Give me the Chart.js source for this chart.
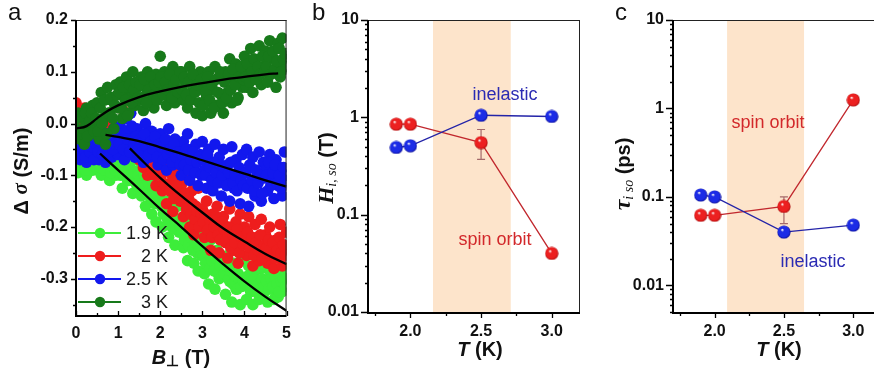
<!DOCTYPE html>
<html><head><meta charset="utf-8">
<script src="https://cdn.jsdelivr.net/npm/chart.js@4.4.1/dist/chart.umd.min.js"></script>
<style>
html,body{margin:0;padding:0;background:#fff;width:874px;height:378px;overflow:hidden}
.w{position:absolute;top:0}
</style></head><body>
<div class="w" style="left:0"><canvas id="ca" width="300" height="378"></canvas></div>
<div class="w" style="left:290px"><canvas id="cb" width="300" height="378"></canvas></div>
<div class="w" style="left:580px"><canvas id="cc" width="310" height="378"></canvas></div>
<script>
// ---------- Panel a data ----------
const B = [0,0.05,0.1,0.15,0.2,0.25,0.3,0.35,0.4,0.45,0.5,0.55,0.6,0.65,0.7,0.75,0.8,0.85,0.9,0.95,
1,1.05,1.1,1.15,1.2,1.25,1.3,1.35,1.4,1.45,1.5,1.55,1.6,1.65,1.7,1.75,1.8,1.85,1.9,1.95,
2,2.05,2.1,2.15,2.2,2.25,2.3,2.35,2.4,2.45,2.5,2.55,2.6,2.65,2.7,2.75,2.8,2.85,2.9,2.95,
3,3.05,3.1,3.15,3.2,3.25,3.3,3.35,3.4,3.45,3.5,3.55,3.6,3.65,3.7,3.75,3.8,3.85,3.9,3.95,
4,4.05,4.1,4.15,4.2,4.25,4.3,4.35,4.4,4.45,4.5,4.55,4.6,4.65,4.7,4.75,4.8,4.85,4.9,4.95,5];
const B2 = [0.025,0.075,0.125,0.175,0.225,0.275,0.325,0.375,0.425,0.475,0.525,0.575,0.625,0.675,0.725,0.775,0.825,0.875,0.925,0.975,
1.025,1.075,1.125,1.175,1.225,1.275,1.325,1.375,1.425,1.475,1.525,1.575,1.625,1.675,1.725,1.775,1.825,1.875,1.925,1.975,
2.025,2.075,2.125,2.175,2.225,2.275,2.325,2.375,2.425,2.475,2.525,2.575,2.625,2.675,2.725,2.775,2.825,2.875,2.925,2.975,
3.025,3.075,3.125,3.175,3.225,3.275,3.325,3.375,3.425,3.475,3.525,3.575,3.625,3.675,3.725,3.775,3.825,3.875,3.925,3.975,
4.025,4.075,4.125,4.175,4.225,4.275,4.325,4.375,4.425,4.475,4.525,4.575,4.625,4.675,4.725,4.775,4.825,4.875,4.925,4.975];
const sig3K = [-0.01,0.02,-0.03,0.01,-0.04,0.03,0.0,-0.02,0.035,-0.005,
0.04,-0.03,0.06,0.01,-0.04,0.07,0.02,0.045,-0.01,0.075,
0.03,0.08,0.01,0.06,0.09,0.02,0.05,0.1,0.035,0.07,
0.045,0.09,0.025,0.07,0.1,0.04,0.08,0.03,0.095,0.06,
0.13,0.06,0.1,0.035,0.08,0.05,0.11,0.04,0.09,0.065,
0.1,0.045,0.08,0.03,0.11,0.06,0.09,0.02,0.07,0.1,
0.015,0.08,0.05,0.1,0.02,0.065,0.11,0.035,0.09,0.055,
0.02,0.1,0.06,0.125,0.04,0.085,0.115,0.05,0.095,0.07,
0.13,0.07,0.105,0.145,0.06,0.12,0.09,0.15,0.075,0.11,
0.14,0.08,0.16,0.1,0.125,0.07,0.155,0.09,0.165,0.11,0.13];
const sig3K_b = [0.01,-0.02,0.015,-0.01,0.02,-0.025,0.005,0.02,-0.015,0.01,
-0.015,0.03,0.0,0.045,-0.02,0.02,0.05,0.01,0.035,0.055,
0.06,0.03,0.07,0.045,0.015,0.075,0.04,0.065,0.08,0.05,
0.075,0.05,0.085,0.04,0.065,0.09,0.055,0.075,0.045,0.08,
0.09,0.055,0.08,0.065,0.095,0.05,0.075,0.085,0.06,0.1,
0.065,0.09,0.055,0.08,0.045,0.095,0.06,0.075,0.04,0.085,
0.035,0.06,0.09,0.045,0.075,0.03,0.085,0.06,0.1,0.04,
0.08,0.05,0.095,0.065,0.105,0.075,0.045,0.09,0.11,0.085,
0.09,0.115,0.08,0.1,0.125,0.085,0.11,0.095,0.13,0.1,
0.11,0.13,0.095,0.14,0.105,0.12,0.145,0.1,0.125,0.135];
const sig25K = [-0.05,-0.025,-0.07,-0.04,-0.02,-0.075,-0.035,-0.06,-0.025,-0.055,
-0.03,-0.07,-0.015,-0.05,-0.075,-0.02,-0.045,-0.065,-0.01,-0.04,
-0.06,-0.005,-0.035,-0.07,0.01,-0.045,0.02,-0.025,-0.065,-0.01,
-0.05,-0.02,-0.075,0.0,-0.04,-0.065,-0.015,-0.055,-0.03,-0.08,
-0.02,-0.06,-0.035,-0.09,-0.01,-0.05,-0.08,-0.03,-0.07,-0.045,
-0.1,-0.035,-0.065,-0.02,-0.11,-0.05,-0.085,-0.04,-0.12,-0.06,
-0.035,-0.09,-0.125,-0.05,-0.075,-0.13,-0.04,-0.1,-0.065,-0.14,
-0.05,-0.11,-0.08,-0.15,-0.045,-0.125,-0.07,-0.1,-0.155,-0.06,
-0.12,-0.05,-0.16,-0.085,-0.065,-0.14,-0.1,-0.055,-0.15,-0.075,
-0.09,-0.13,-0.06,-0.11,-0.145,-0.07,-0.12,-0.085,-0.14,-0.055,-0.1];
const sig25K_b = [-0.04,-0.06,-0.03,-0.05,-0.065,-0.035,-0.055,-0.045,-0.07,-0.04,
-0.055,-0.035,-0.06,-0.025,-0.045,-0.055,-0.03,-0.05,-0.04,-0.02,
-0.04,-0.02,-0.05,-0.015,-0.03,-0.055,-0.005,-0.04,-0.025,-0.05,
-0.03,-0.055,-0.02,-0.045,-0.06,-0.035,-0.05,-0.025,-0.065,-0.04,
-0.045,-0.07,-0.03,-0.06,-0.05,-0.075,-0.04,-0.065,-0.055,-0.08,
-0.06,-0.08,-0.05,-0.09,-0.07,-0.055,-0.095,-0.075,-0.065,-0.1,
-0.07,-0.1,-0.06,-0.085,-0.11,-0.075,-0.095,-0.115,-0.08,-0.1,
-0.085,-0.12,-0.095,-0.075,-0.115,-0.1,-0.13,-0.085,-0.11,-0.12,
-0.095,-0.125,-0.08,-0.11,-0.13,-0.09,-0.115,-0.1,-0.135,-0.105,
-0.1,-0.075,-0.12,-0.095,-0.08,-0.115,-0.1,-0.125,-0.085,-0.11];
const sig2K = [0.04,0.0,0.02,-0.015,0.03,0.005,-0.02,0.015,-0.005,0.01,
-0.01,0.005,-0.025,0.0,-0.02,0.01,-0.03,-0.005,-0.025,-0.015,
-0.02,-0.035,0.028,-0.04,-0.025,-0.05,-0.03,-0.045,-0.06,-0.035,
-0.07,-0.04,-0.085,-0.055,-0.1,-0.045,-0.09,-0.065,-0.12,-0.06,
-0.07,-0.13,-0.09,-0.155,-0.075,-0.115,-0.17,-0.095,-0.14,-0.11,
-0.12,-0.18,-0.105,-0.15,-0.2,-0.13,-0.215,-0.16,-0.125,-0.19,
-0.165,-0.22,-0.15,-0.19,-0.245,-0.175,-0.205,-0.16,-0.25,-0.2,
-0.18,-0.23,-0.26,-0.165,-0.21,-0.245,-0.19,-0.27,-0.175,-0.225,
-0.2,-0.255,-0.18,-0.235,-0.275,-0.195,-0.22,-0.265,-0.185,-0.245,
-0.215,-0.27,-0.2,-0.245,-0.28,-0.225,-0.26,-0.195,-0.275,-0.235,-0.21];
const sig2K_b = [0.01,0.025,-0.005,0.015,0.0,0.02,-0.01,0.005,0.01,-0.005,
0.0,-0.015,0.005,-0.01,-0.02,0.0,-0.015,-0.025,-0.01,-0.02,
-0.03,-0.02,-0.04,-0.03,-0.045,-0.035,-0.04,-0.055,-0.045,-0.05,
-0.055,-0.065,-0.05,-0.075,-0.07,-0.08,-0.065,-0.1,-0.085,-0.09,
-0.1,-0.115,-0.12,-0.09,-0.13,-0.1,-0.145,-0.12,-0.135,-0.15,
-0.15,-0.135,-0.165,-0.145,-0.175,-0.155,-0.185,-0.17,-0.2,-0.175,
-0.19,-0.175,-0.205,-0.185,-0.22,-0.2,-0.18,-0.215,-0.225,-0.19,
-0.205,-0.225,-0.2,-0.24,-0.215,-0.23,-0.205,-0.25,-0.22,-0.235,
-0.225,-0.21,-0.24,-0.22,-0.255,-0.23,-0.245,-0.215,-0.26,-0.235,
-0.24,-0.225,-0.255,-0.23,-0.26,-0.245,-0.22,-0.25,-0.235,-0.255];
const sig19K = [-0.07,-0.095,-0.055,-0.085,-0.06,-0.1,-0.075,-0.05,-0.09,-0.065,
-0.08,-0.055,-0.1,-0.065,-0.045,-0.09,-0.11,-0.06,-0.075,-0.1,
-0.06,-0.1,-0.125,-0.075,-0.055,-0.11,-0.09,-0.135,-0.07,-0.12,
-0.09,-0.14,-0.1,-0.16,-0.12,-0.085,-0.175,-0.13,-0.19,-0.11,
-0.145,-0.2,-0.125,-0.175,-0.22,-0.15,-0.19,-0.235,-0.16,-0.21,
-0.19,-0.24,-0.2,-0.265,-0.215,-0.185,-0.27,-0.23,-0.285,-0.21,
-0.235,-0.29,-0.25,-0.31,-0.225,-0.275,-0.32,-0.245,-0.3,-0.26,
-0.28,-0.33,-0.255,-0.305,-0.345,-0.27,-0.32,-0.29,-0.35,-0.265,
-0.3,-0.34,-0.275,-0.325,-0.35,-0.285,-0.315,-0.34,-0.28,-0.33,
-0.31,-0.345,-0.285,-0.32,-0.34,-0.29,-0.335,-0.3,-0.325,-0.28,-0.3];
const sig19K_b = [-0.08,-0.065,-0.085,-0.07,-0.09,-0.075,-0.065,-0.08,-0.07,-0.085,
-0.07,-0.085,-0.075,-0.09,-0.065,-0.08,-0.095,-0.07,-0.09,-0.085,
-0.085,-0.075,-0.1,-0.09,-0.11,-0.08,-0.105,-0.095,-0.115,-0.1,
-0.11,-0.125,-0.1,-0.135,-0.115,-0.145,-0.125,-0.155,-0.14,-0.15,
-0.16,-0.175,-0.15,-0.185,-0.165,-0.2,-0.18,-0.205,-0.19,-0.2,
-0.21,-0.225,-0.205,-0.235,-0.22,-0.245,-0.23,-0.25,-0.24,-0.255,
-0.255,-0.27,-0.25,-0.28,-0.265,-0.285,-0.26,-0.29,-0.275,-0.295,
-0.29,-0.275,-0.3,-0.285,-0.31,-0.295,-0.32,-0.3,-0.315,-0.305,
-0.31,-0.295,-0.32,-0.305,-0.3,-0.325,-0.31,-0.32,-0.3,-0.315,
-0.305,-0.32,-0.3,-0.315,-0.295,-0.31,-0.325,-0.305,-0.3,-0.315];
// fitted curves
const fit3K_B = [0,0.25,0.5,0.75,1,1.5,2,2.5,3,3.5,4,4.5,4.8];
const fit3K_y = [-0.01,-0.005,0.01,0.024,0.035,0.051,0.062,0.071,0.078,0.085,0.09,0.095,0.097];
const fit25K_B = [0.7,1,1.5,2,2.5,3,3.5,4,4.5,5];
const fit25K_y = [-0.022,-0.026,-0.034,-0.046,-0.058,-0.071,-0.084,-0.097,-0.11,-0.122];
const fit2K_B = [1.28,1.5,2,2.5,3,3.5,4,4.5,5];
const fit2K_y = [-0.048,-0.066,-0.105,-0.14,-0.172,-0.203,-0.228,-0.252,-0.272];
const fit19K_B = [0.57,1,1.5,2,2.5,3,3.5,4,4.5,5];
const fit19K_y = [-0.058,-0.09,-0.127,-0.165,-0.2,-0.237,-0.272,-0.305,-0.335,-0.362];
const legendLabels = ['1.9 K','2 K','2.5 K','3 K'];
const xTicksA = [0,1,2,3,4,5];
const yTicksA = [-0.3,-0.2,-0.1,0,0.1,0.2];

// ---------- Panels b, c data ----------
const T = [1.9, 2.0, 2.5, 3.0];
const H_so = [0.85, 0.85, 0.55, 0.04];
const H_i  = [0.49, 0.51, 1.05, 1.02];
const H_so_errT = [2.5], H_so_errLo = [0.37], H_so_errHi = [0.75];
const tau_so = [0.062, 0.062, 0.078, 1.25];
const tau_i  = [0.105, 0.10, 0.040, 0.048];
const tau_so_errT = [2.5], tau_so_errLo = [0.05], tau_so_errHi = [0.10];
const bandB = [2.16, 2.71];
const bandC = [2.09, 2.645];
const xTicksT = [2.0, 2.5, 3.0];
const xMinorT = [1.75, 2.25, 2.75];
const yTicksLog = [0.01, 0.1, 1, 10];

// ---------- helpers ----------
const SANS = "'Liberation Sans', Arial, sans-serif";
const SERIF = "'Liberation Serif', 'Times New Roman', serif";
const C19='#3ded3a', C2='#ee1d1d', C25='#1218ee', C3='#17791a';
const pts = (xs, ys) => xs.map((x,i)=>({x, y: ys[i]}));

function rich(ctx, segs, x, y, rot){
  ctx.save(); ctx.translate(x,y); if(rot) ctx.rotate(-Math.PI/2);
  let w=0; segs.forEach(s=>{ctx.font=s.f; w+=ctx.measureText(s.t).width;});
  let cx=-w/2; ctx.textBaseline='middle'; ctx.textAlign='left';
  segs.forEach(s=>{ctx.font=s.f; ctx.fillStyle=s.c||'#111'; ctx.fillText(s.t,cx,s.dy||0); cx+=ctx.measureText(s.t).width;});
  ctx.restore();
}
function frame(chart){
  const {ctx, chartArea:a} = chart;
  ctx.save();
  ctx.strokeStyle='#222'; ctx.lineWidth=1;
  ctx.beginPath(); ctx.moveTo(a.left, a.top+0.5); ctx.lineTo(a.right, a.top+0.5);
  ctx.moveTo(a.right-0.5, a.top); ctx.lineTo(a.right-0.5, a.bottom); ctx.stroke();
  ctx.strokeStyle='#000'; ctx.lineWidth=2;
  ctx.beginPath(); ctx.moveTo(a.left, a.top); ctx.lineTo(a.left, a.bottom+1); ctx.lineTo(a.right, a.bottom+1); ctx.stroke();
  ctx.restore();
}
function ticksY(chart, majors, minors, lenMaj, lenMin){
  const {ctx, chartArea:a, scales:{y}} = chart;
  ctx.save(); ctx.strokeStyle='#000'; ctx.lineWidth=1.3; ctx.beginPath();
  majors.forEach(v=>{const p=Math.round(y.getPixelForValue(v))+0.5; ctx.moveTo(a.left-lenMaj,p); ctx.lineTo(a.left,p);});
  minors.forEach(v=>{const p=Math.round(y.getPixelForValue(v))+0.5; ctx.moveTo(a.left-lenMin,p); ctx.lineTo(a.left,p);});
  ctx.stroke(); ctx.restore();
}
function ticksX(chart, majors, minors, lenMaj, lenMin, inward){
  const {ctx, chartArea:a, scales:{x}} = chart;
  const b=a.bottom+1, s = inward ? -1 : 1;
  ctx.save(); ctx.strokeStyle='#000'; ctx.lineWidth=1.3; ctx.beginPath();
  majors.forEach(v=>{const p=Math.round(x.getPixelForValue(v))+0.5; ctx.moveTo(p,b); ctx.lineTo(p,b+s*lenMaj);});
  minors.forEach(v=>{const p=Math.round(x.getPixelForValue(v))+0.5; ctx.moveTo(p,b); ctx.lineTo(p,b+s*lenMin);});
  ctx.stroke(); ctx.restore();
}
function logMinors(lo, hi){
  const out=[]; for(let d=lo; d<hi; d*=10){ for(let k=2;k<10;k++){ const v=d*k; if(v<=hi) out.push(v);} } return out;
}
function ball(base, dark){
  const c=document.createElement('canvas'); c.width=c.height=14; const g=c.getContext('2d');
  const gr=g.createRadialGradient(5.2,4.6,0.3,7,7,7);
  gr.addColorStop(0,'#ffffff'); gr.addColorStop(0.22,base); gr.addColorStop(0.75,base); gr.addColorStop(1,dark);
  g.fillStyle=gr; g.beginPath(); g.arc(7,7,6.6,0,Math.PI*2); g.fill(); return c;
}
const redBall = ball('#ec2020','#a00808');
const blueBall = ball('#1c2ce6','#0a0a8a');

Chart.defaults.font.family = SANS;
Chart.defaults.color = '#111';
Chart.defaults.animation = false;

// ---------- Chart a ----------
const fitStyle = {type:'line', showLine:true, borderColor:'#000', borderWidth:2.3, pointRadius:0, tension:0.4, fill:false};
const scatStyle = (c)=>({showLine:false, pointRadius:5.8, pointBackgroundColor:c, pointBorderWidth:0, backgroundColor:c, borderColor:c});
new Chart(document.getElementById('ca'), {
  type:'scatter',
  data:{datasets:[
    Object.assign({data:pts(fit3K_B,fit3K_y)}, fitStyle),
    Object.assign({data:pts(fit25K_B,fit25K_y)}, fitStyle),
    Object.assign({data:pts(fit2K_B,fit2K_y)}, fitStyle),
    Object.assign({data:pts(fit19K_B,fit19K_y)}, fitStyle),
    Object.assign({data:pts(B,sig3K).concat(pts(B2,sig3K_b))}, scatStyle(C3)),
    Object.assign({data:pts(B,sig25K).concat(pts(B2,sig25K_b))}, scatStyle(C25)),
    Object.assign({data:pts(B,sig2K).concat(pts(B2,sig2K_b))}, scatStyle(C2)),
    Object.assign({data:pts(B,sig19K).concat(pts(B2,sig19K_b))}, scatStyle(C19)),
  ]},
  options:{
    responsive:false, animation:false,
    layout:{padding:{top:20,right:13,left:0,bottom:0}},
    plugins:{legend:{display:false}, tooltip:{enabled:false}},
    scales:{
      x:{type:'linear', min:0, max:5, grid:{display:false, drawTicks:false}, border:{display:false},
        afterBuildTicks:s=>{s.ticks=xTicksA.map(v=>({value:v}));},
        ticks:{padding:9, font:{size:16, weight:'bold'}, color:'#111', callback:v=>String(v), maxRotation:0},
        afterFit:s=>{s.height=63;}},
      y:{type:'linear', min:-0.37, max:0.2, grid:{display:false, drawTicks:false}, border:{display:false},
        afterBuildTicks:s=>{s.ticks=yTicksA.map(v=>({value:v}));},
        ticks:{padding:8, font:{size:16, weight:'bold'}, color:'#111', callback:v=>(Math.abs(v)<1e-9?0:v).toFixed(1)},
        afterFit:s=>{s.width=76;}}
    }
  },
  plugins:[{id:'decoA', afterDraw(chart){
    const ctx=chart.ctx;
    frame(chart);
    ticksY(chart, yTicksA, [-0.35,-0.25,-0.15,-0.05,0.05,0.15], 5, 3);
    ticksX(chart, xTicksA, [0.5,1.5,2.5,3.5,4.5], 5, 3, true);
    const cols=[C19,C2,C25,C3]; const ys=[233,256,279,302];
    ctx.save();
    legendLabels.forEach((l,i)=>{
      ctx.strokeStyle=cols[i]; ctx.lineWidth=2; ctx.beginPath(); ctx.moveTo(78,ys[i]); ctx.lineTo(121,ys[i]); ctx.stroke();
      ctx.fillStyle=cols[i]; ctx.beginPath(); ctx.arc(100,ys[i],5.2,0,Math.PI*2); ctx.fill();
      ctx.fillStyle='#1a1a1a'; ctx.font='18px '+SANS; ctx.textAlign='right'; ctx.textBaseline='middle';
      ctx.fillText(l,168,ys[i]+1);
    });
    ctx.restore();
    ctx.save(); ctx.fillStyle='#111'; ctx.font='24px '+SANS; ctx.textBaseline='alphabetic'; ctx.fillText('a',8,20); ctx.restore();
    rich(ctx,[{t:'Δ ',f:'bold 20px '+SANS},{t:'σ',f:'bold italic 21px '+SERIF},{t:' (S/m)',f:'bold 20px '+SANS}],22,171,true);
    rich(ctx,[{t:'B',f:'bold italic 20px '+SANS},{t:'⊥',f:'bold 15px '+SANS,dy:4},{t:' (T)',f:'bold 20px '+SANS}],181,358,false);
  }}]
});

// ---------- Charts b and c ----------
function tPanel(id, lineSets, yMin, band, errT, errLo, errHi, padR, yW, letter, letterX, ytitle, ytx, yty, xtOff, notes){
  return new Chart(document.getElementById(id), {
    type:'line',
    data:{datasets:lineSets},
    options:{
      responsive:false, animation:false,
      layout:{padding:{top:20,right:padR,left:0,bottom:0}},
      plugins:{legend:{display:false}, tooltip:{enabled:false}},
      scales:{
        x:{type:'linear', min:1.7, max:3.2, grid:{display:false, drawTicks:false}, border:{display:false},
          afterBuildTicks:s=>{s.ticks=xTicksT.map(v=>({value:v}));},
          ticks:{padding:10, font:{size:16, weight:'bold'}, color:'#111', callback:v=>Number(v).toFixed(1), maxRotation:0},
          afterFit:s=>{s.height=66;}},
        y:{type:'logarithmic', min:yMin, max:10, grid:{display:false, drawTicks:false}, border:{display:false},
          afterBuildTicks:s=>{s.ticks=yTicksLog.filter(v=>v>=yMin).map(v=>({value:v}));},
          ticks:{padding:9, font:{size:16, weight:'bold'}, color:'#111', callback:v=>String(v)},
          afterFit:s=>{s.width=yW;}}
      }
    },
    plugins:[{id:'deco'+id,
      beforeDatasetsDraw(chart){
        const {ctx, chartArea:a, scales:{x,y}} = chart;
        ctx.save(); ctx.fillStyle='#fde4cb';
        const x0=x.getPixelForValue(band[0]), x1=x.getPixelForValue(band[1]);
        ctx.fillRect(x0, a.top, x1-x0, a.bottom-a.top);
        ctx.strokeStyle='#a5696a'; ctx.lineWidth=1.2; ctx.beginPath();
        errT.forEach((t,i)=>{const px=x.getPixelForValue(t), p0=y.getPixelForValue(errLo[i]), p1=y.getPixelForValue(errHi[i]);
          ctx.moveTo(px,p0); ctx.lineTo(px,p1); ctx.moveTo(px-4,p0); ctx.lineTo(px+4,p0); ctx.moveTo(px-4,p1); ctx.lineTo(px+4,p1);});
        ctx.stroke(); ctx.restore();
      },
      afterDraw(chart){
        const ctx=chart.ctx;
        frame(chart);
        ticksY(chart, yTicksLog.filter(v=>v>=yMin), logMinors(yMin<0.01?0.001:0.01,10).filter(v=>v>=yMin), 7, 3);
        ticksX(chart, xTicksT, xMinorT, 5, 3, false);
        ctx.save(); ctx.fillStyle='#111'; ctx.font='24px '+SANS; ctx.textBaseline='alphabetic'; ctx.fillText(letter,letterX,20); ctx.restore();
        rich(ctx, ytitle, ytx, yty, true);
        rich(ctx,[{t:'T',f:'bold italic 20px '+SANS},{t:' (K)',f:'bold 20px '+SANS}], chart.chartArea.left+xtOff, 350, false);
        notes.forEach(n=>{ctx.save(); ctx.font='18px '+SANS; ctx.fillStyle=n.c; ctx.textAlign='center'; ctx.textBaseline='middle'; ctx.fillText(n.t,n.x,n.y); ctx.restore();});
      }}]
  });
}
const lineDs = (ys, col, img) => ({data:pts(T,ys), borderColor:col, borderWidth:1.3, pointStyle:img, pointRadius:7, tension:0, fill:false});

tPanel('cb', [lineDs(H_i,'#2323a8',blueBall), lineDs(H_so,'#c1272d',redBall)], 0.01, bandB, H_so_errT, H_so_errLo, H_so_errHi,
  10, 78, 'b', 22,
  [{t:'H',f:'bold italic 22px '+SERIF},{t:'i, so',f:'italic 14px '+SERIF,dy:5},{t:' (T)',f:'bold 20px '+SANS}], 37, 168, 112,
  [{t:'inelastic',c:'#2b2bb3',x:215,y:95},{t:'spin orbit',c:'#d2282a',x:205,y:240}]);

tPanel('cc', [lineDs(tau_i,'#2323a8',blueBall), lineDs(tau_so,'#c1272d',redBall)], 0.005, bandC, tau_so_errT, tau_so_errLo, tau_so_errHi,
  9, 93, 'c', 35,
  [{t:'τ',f:'bold italic 24px '+SERIF},{t:'i so',f:'italic 14px '+SERIF,dy:5},{t:' (ps)',f:'bold 20px '+SANS}], 44, 174, 106,
  [{t:'spin orbit',c:'#d2282a',x:188,y:123},{t:'inelastic',c:'#2b2bb3',x:233,y:262}]);
</script>
</body></html>
